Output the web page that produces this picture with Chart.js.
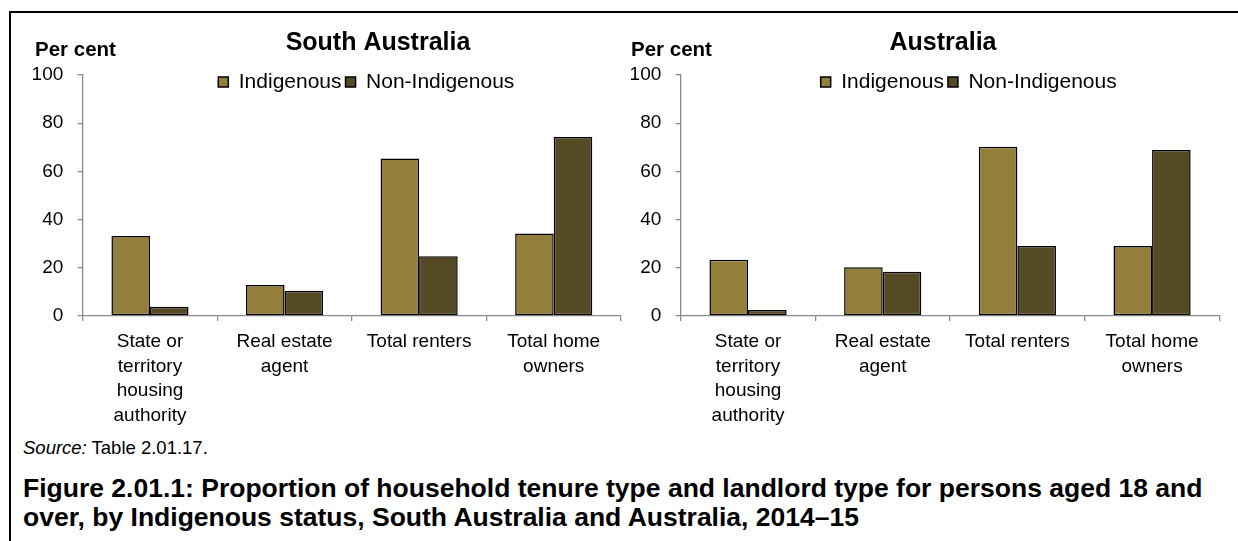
<!DOCTYPE html>
<html>
<head>
<meta charset="utf-8">
<script src="https://cdn.jsdelivr.net/npm/chart.js@4.4.1/dist/chart.umd.min.js"></script>
<style>
  html, body { margin: 0; padding: 0; background: #fff; }
  body { width: 1238px; height: 541px; position: relative; overflow: hidden;
         font-family: 'Liberation Sans', Arial, sans-serif; color: #000; }
  .frame { position: absolute; left: 9px; top: 11px; width: 1300px; height: 600px;
           border: 2.5px solid #000; box-sizing: border-box; }
  canvas { position: absolute; top: 0; }
  #chartSA { left: 0; }
  #chartAUS { left: 597.8px; }
  .unit { position: absolute; font-weight: bold; font-size: 20.5px; line-height: 24px; top: 37px; }
  .source { position: absolute; left: 23px; top: 437px; font-size: 18.5px; line-height: 22px; }
  .caption { position: absolute; left: 23px; top: 474px; font-size: 26.5px; font-weight: bold; line-height: 29px; white-space: nowrap; }
</style>
</head>
<body>
<div class="frame"></div>
<canvas id="chartSA" width="630" height="432"></canvas>
<canvas id="chartAUS" width="630" height="432"></canvas>
<div class="unit" style="left:35px">Per cent</div>
<div class="unit" style="left:631px">Per cent</div>
<div class="source"><i>Source:</i> Table 2.01.17.</div>
<div class="caption">Figure 2.01.1: Proportion of household tenure type and landlord type for persons aged 18 and<br>over, by Indigenous status, South Australia and Australia, 2014–15</div>
<script>
// Tenure and landlord categories (multi-line axis labels)
const categories = [
  ['State or', 'territory', 'housing', 'authority'],
  ['Real estate', 'agent'],
  ['Total renters'],
  ['Total home', 'owners']
];
const seriesNames = ['Indigenous', 'Non-Indigenous'];

// Per cent of persons aged 18 and over
const saIndigenous = [33.2, 12.9, 65.4, 34.2];
const saNonIndigenous = [3.8, 10.5, 24.8, 74.3];
const ausIndigenous = [23.3, 20.2, 70.2, 29.0];
const ausNonIndigenous = [2.5, 18.4, 29.0, 68.9];

// Value axis
const yMin = 0;
const yMax = 100;
const yStep = 20;

const seriesColors = ['#937f3b', '#564a24'];
const axisGrey = '#8a8a8a';

Chart.defaults.font.family = "'Liberation Sans', Arial, sans-serif";
Chart.defaults.color = '#000';

// Moves the title and legend to fixed spots after layout, so the legend
// can sit inside the top of the plot area.
const headerPlacement = {
  id: 'headerPlacement',
  afterLayout(chart, args, opts) {
    const t = chart.titleBlock;
    if (t) {
      t.left = opts.titleX - 160;
      t.right = opts.titleX + 160;
      t.width = 320;
    }
    const lg = chart.legend;
    if (lg) {
      lg.left = opts.legendX - 175;
      lg.right = opts.legendX + 175;
      lg.width = 350;
      lg.top = opts.legendY;
      lg.bottom = opts.legendY + 40;
      lg.height = 40;
    }
  }
};

function makeChart(id, titleText, indigenous, nonIndigenous, place) {
  return new Chart(document.getElementById(id), {
    type: 'bar',
    data: {
      labels: categories,
      datasets: [
        { label: seriesNames[0], data: indigenous, backgroundColor: seriesColors[0],
          borderColor: '#000', borderWidth: 1.5, borderSkipped: false },
        { label: seriesNames[1], data: nonIndigenous, backgroundColor: seriesColors[1],
          borderColor: '#000', borderWidth: 1.5, borderSkipped: false }
      ]
    },
    options: {
      responsive: false,
      animation: false,
      events: [],
      layout: { padding: { left: 0, top: 0, right: place.padRight, bottom: 0 } },
      datasets: { bar: { categoryPercentage: 0.573, barPercentage: 1.0 } },
      plugins: {
        title: {
          display: true, text: titleText, color: '#000',
          font: { size: 25, weight: 'bold', lineHeight: 1.2 },
          padding: { top: 28, bottom: 16 }
        },
        legend: {
          display: true, position: 'top', maxHeight: 1,
          labels: { color: '#000', font: { size: 21 }, boxWidth: 10, boxHeight: 10, padding: 4 }
        },
        tooltip: { enabled: false },
        headerPlacement: place
      },
      scales: {
        x: {
          offset: true,
          border: { display: true, color: axisGrey, width: 1.3 },
          grid: { display: true, drawOnChartArea: false, drawTicks: true, tickLength: 5,
                  color: axisGrey, lineWidth: 1.3, offset: true },
          ticks: { color: '#000', font: { size: 19, lineHeight: 1.3 }, padding: 8.5,
                   autoSkip: false, maxRotation: 0, minRotation: 0 },
          afterFit(scale) { scale.height = 116; }
        },
        y: {
          min: yMin, max: yMax,
          border: { display: true, color: axisGrey, width: 1.3 },
          grid: { display: true, drawOnChartArea: false, drawTicks: true, tickLength: 5,
                  color: axisGrey, lineWidth: 1.3 },
          ticks: { stepSize: yStep, color: '#000', font: { size: 19 }, padding: 14.4 },
          afterFit(scale) { scale.width = 82.7; }
        }
      }
    },
    plugins: [headerPlacement]
  });
}

makeChart('chartSA', 'South Australia', saIndigenous, saNonIndigenous,
  { titleX: 378, legendX: 366.3, legendY: 67.5, padRight: 9 });
makeChart('chartAUS', 'Australia', ausIndigenous, ausNonIndigenous,
  { titleX: 345, legendX: 370.7, legendY: 67.5, padRight: 8.6 });
</script>
</body>
</html>
